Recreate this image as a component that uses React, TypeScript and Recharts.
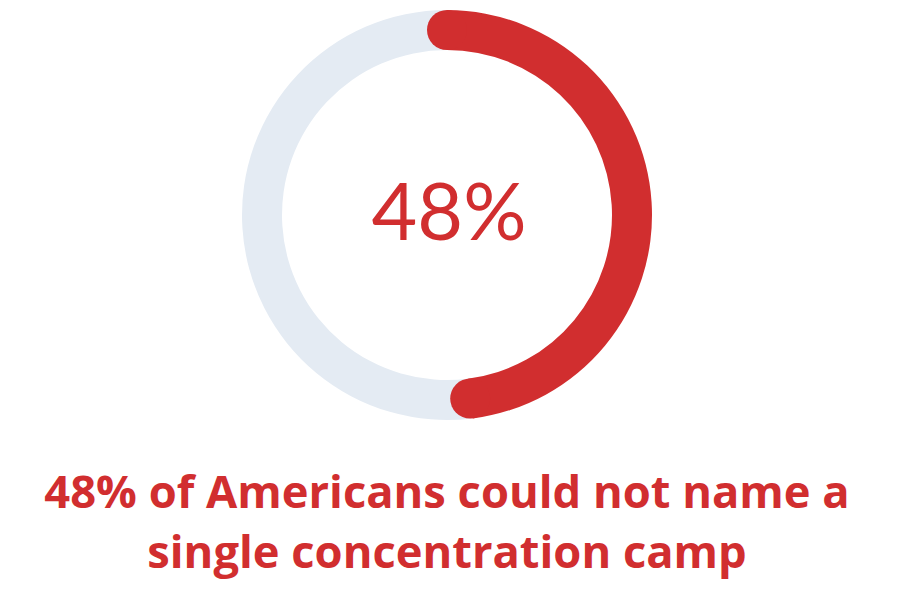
import React from 'react';
import { PieChart, Pie, Cell, Label } from 'recharts';

// share of respondents
const slices = [
  { name: 'Could not name a camp', value: 48 },
  { name: 'Rest', value: 52 },
];
const sliceColors = ['#d12e2f', '#e4ebf3'];
const centerLabel = '48%';
const captionLines = ['48% of Americans could not name a', 'single concentration camp'];

const RAD = Math.PI / 180;

// round end caps for the red arc, placed from the sector geometry recharts gives us
const renderCaps = (props: any) => {
  if (props.index !== 0) return null;
  const { cx, cy, innerRadius, outerRadius, startAngle, endAngle } = props;
  const r = (innerRadius + outerRadius) / 2;
  const capR = (outerRadius - innerRadius) / 2;
  const pt = (a: number) => ({ x: cx + Math.cos(-a * RAD) * r, y: cy + Math.sin(-a * RAD) * r });
  const s = pt(startAngle);
  const e = pt(endAngle);
  return (
    <g>
      <circle cx={s.x} cy={s.y} r={capR} fill={sliceColors[0]} />
      <circle cx={e.x} cy={e.y} r={capR} fill={sliceColors[0]} />
    </g>
  );
};

export default function App() {
  return (
    <div style={{ position: 'absolute', left: 0, top: 0, width: 898, height: 610, background: '#fff' }}>
      <PieChart width={898} height={440} margin={{ top: 0, right: 0, bottom: 0, left: 0 }}>
        <Pie
          data={slices}
          dataKey="value"
          cx={447}
          cy={215}
          innerRadius={165}
          outerRadius={205}
          startAngle={90}
          endAngle={-270}
          stroke="none"
          label={renderCaps}
          labelLine={false}
          isAnimationActive={false}
        >
          {slices.map((s, i) => (
            <Cell key={s.name} fill={sliceColors[i]} />
          ))}
          <Label
            value={centerLabel}
            position="center"
            fill="#d12e2f"
            dy={-8}
            style={{ fontFamily: 'Lato, sans-serif', fontSize: 79, fontWeight: 400 }}
          />
        </Pie>
      </PieChart>
      <div
        style={{
          position: 'absolute',
          left: 0,
          top: 461,
          width: 894,
          textAlign: 'center',
          fontFamily: '"Open Sans", sans-serif',
          fontWeight: 700,
          fontSize: 45.3,
          lineHeight: '60px',
          fontVariantLigatures: 'none',
          color: '#d12e2f',
        }}
      >
        {captionLines.map((l) => (
          <div key={l}>{l}</div>
        ))}
      </div>
    </div>
  );
}
